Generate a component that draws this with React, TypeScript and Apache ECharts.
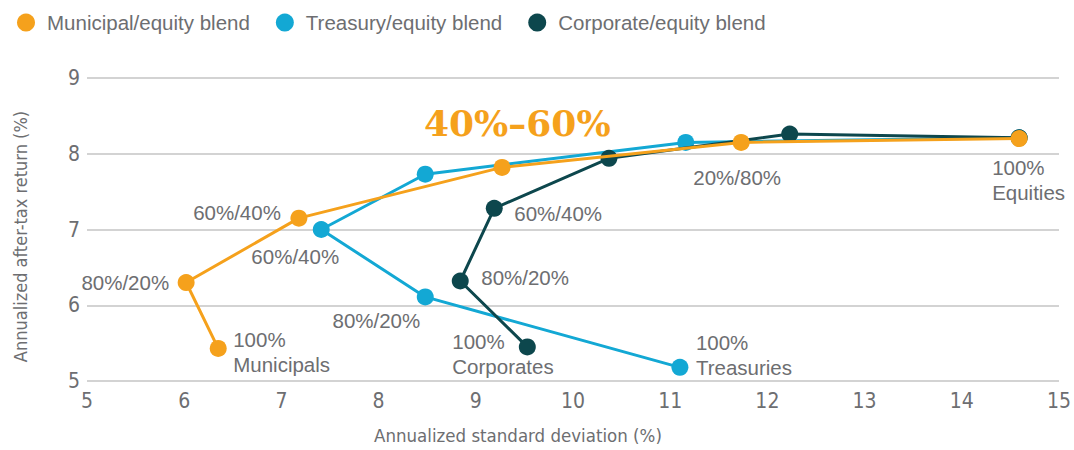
import React, { useEffect, useRef } from "react";
import * as echarts from "echarts";

// ---- data ----
const seriesNames = ["Municipal/equity blend", "Treasury/equity blend", "Corporate/equity blend"];
const seriesColors = ["#F5A11C", "#13A8D4", "#0D474D"];

// points ordered 100% bonds -> 80/20 -> 60/40 -> 40/60 -> 20/80 -> 100% equities
const municipalStdDev = [6.35, 6.02, 7.18, 9.27, 11.73, 14.59];
const municipalReturn = [5.43, 6.30, 7.15, 7.82, 8.15, 8.20];
const municipalLabels = ["100%\nMunicipals", "80%/20%", "60%/40%", "", "20%/80%", "100%\nEquities"];

const treasuryStdDev = [11.10, 8.48, 7.41, 8.48, 11.16, 14.59];
const treasuryReturn = [5.18, 6.11, 7.00, 7.73, 8.15, 8.21];
const treasuryLabels = ["100%\nTreasuries", "80%/20%", "60%/40%", "", "", ""];

const corporateStdDev = [9.53, 8.84, 9.19, 10.37, 12.23, 14.59];
const corporateReturn = [5.45, 6.32, 7.28, 7.94, 8.26, 8.21];
const corporateLabels = ["100%\nCorporates", "80%/20%", "60%/40%", "", "", ""];

const xTicks = { min: 5, max: 15, interval: 1 };
const yTicks = { min: 5, max: 9, interval: 1 };
const annotationText = "40%\u201360%";

// ---- label layout (style only) ----
type LL = { dx: number; dy: number; align: "left" | "right" | "center" } | null;
const municipalLayout: LL[] = [
  { dx: 15, dy: 4, align: "left" },
  { dx: -17, dy: 0, align: "right" },
  { dx: -18, dy: -6, align: "right" },
  null,
  { dx: -4, dy: 35, align: "center" },
  { dx: -27, dy: 41, align: "left" },
];
const treasuryLayout: LL[] = [
  { dx: 16, dy: -12, align: "left" },
  { dx: -5, dy: 24, align: "right" },
  { dx: -26, dy: 27, align: "center" },
  null, null, null,
];
const corporateLayout: LL[] = [
  { dx: -75, dy: 7, align: "left" },
  { dx: 21, dy: -4, align: "left" },
  { dx: 20, dy: 5, align: "left" },
  null, null, null,
];

const TEXT_GRAY = "#6D6E71";
const LABEL_FONT = "'Liberation Sans', Arial, sans-serif";
const AXIS_FONT = "'DejaVu Sans Condensed', 'Liberation Sans Narrow', 'Liberation Sans', sans-serif";

function buildData(xs: number[], ys: number[], labels: string[], layout: LL[]) {
  return xs.map((x, i) => {
    const l = layout[i];
    const item: any = { value: [x, ys[i]] };
    if (l && labels[i]) {
      item.label = {
        show: true,
        formatter: labels[i],
        position: "inside",
        offset: [l.dx, l.dy],
        align: l.align,
        verticalAlign: "middle",
        color: TEXT_GRAY,
        fontSize: 20.5,
        lineHeight: 25,
        fontFamily: LABEL_FONT,
      };
    } else {
      item.label = { show: false };
    }
    return item;
  });
}

function makeSeries(name: string, color: string, data: any[], z: number) {
  return {
    name,
    type: "line",
    data,
    z,
    symbol: "circle",
    symbolSize: 17,
    showAllSymbol: true,
    lineStyle: { color, width: 3 },
    itemStyle: { color },
    emphasis: { disabled: true },
    label: { show: false },
  };
}

export default function App() {
  const ref = useRef<HTMLDivElement>(null);
  useEffect(() => {
    if (!ref.current) return;
    const chart = echarts.init(ref.current, undefined, { renderer: "svg" });
    chart.setOption({
      animation: false,
      color: seriesColors,
      legend: {
        data: seriesNames,
        left: 12,
        top: 7,
        icon: "circle",
        itemWidth: 18,
        itemHeight: 18,
        itemGap: 26,
        textStyle: { color: TEXT_GRAY, fontSize: 20.5, fontFamily: LABEL_FONT, padding: [0, 0, 0, 7] },
      },
      grid: { left: 87, right: 3, top: 78, bottom: 67, containLabel: false },
      xAxis: {
        type: "value",
        min: xTicks.min,
        max: xTicks.max,
        interval: xTicks.interval,
        name: "Annualized standard deviation (%)",
        nameLocation: "middle",
        nameGap: 45,
        nameTextStyle: { color: TEXT_GRAY, fontSize: 18.5, fontFamily: AXIS_FONT, padding: [0, 110, 0, 0] },
        axisLine: { show: false },
        axisTick: { show: false },
        splitLine: { show: false },
        axisLabel: { color: TEXT_GRAY, fontSize: 21, fontFamily: AXIS_FONT, margin: 9 },
      },
      yAxis: {
        type: "value",
        min: yTicks.min,
        max: yTicks.max,
        interval: yTicks.interval,
        name: "Annualized after-tax return (%)",
        nameLocation: "middle",
        nameGap: 58,
        nameTextStyle: { color: TEXT_GRAY, fontSize: 18, fontFamily: AXIS_FONT, padding: [0, 14, 0, 0] },
        axisLine: { show: false },
        axisTick: { show: false },
        splitLine: { show: true, lineStyle: { color: "#C4C4C4", width: 1.5 } },
        axisLabel: { color: TEXT_GRAY, fontSize: 21, fontFamily: AXIS_FONT, margin: 7 },
      },
      graphic: [
        {
          type: "text",
          left: 424,
          top: 105,
          style: {
            text: annotationText,
            fill: "#F5A11C",
            font: "bold 36px 'DejaVu Serif', serif",
          },
        },
      ],
      series: [
        makeSeries(seriesNames[1], seriesColors[1], buildData(treasuryStdDev, treasuryReturn, treasuryLabels, treasuryLayout), 2),
        makeSeries(seriesNames[2], seriesColors[2], buildData(corporateStdDev, corporateReturn, corporateLabels, corporateLayout), 3),
        makeSeries(seriesNames[0], seriesColors[0], buildData(municipalStdDev, municipalReturn, municipalLabels, municipalLayout), 4),
      ],
    });
    return () => chart.dispose();
  }, []);
  return <div ref={ref} style={{ position: "absolute", left: 0, top: 0, width: 1074, height: 450 }} />;
}
